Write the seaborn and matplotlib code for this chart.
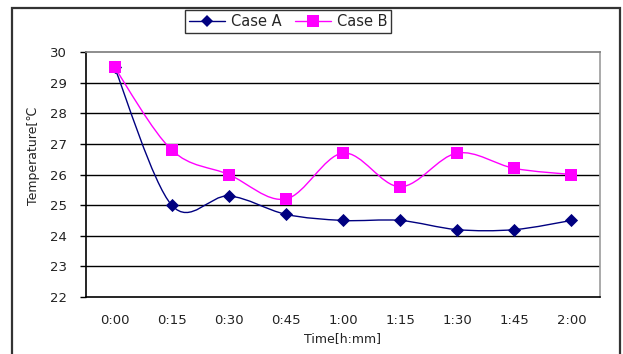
import numpy as np
import pandas as pd
import matplotlib
matplotlib.use("Agg")
import matplotlib.pyplot as plt
from matplotlib.path import Path
from matplotlib.patches import PathPatch, Rectangle
from matplotlib.lines import Line2D
import seaborn as sns

# Measurements every 15 minutes
times = ["0:00", "0:15", "0:30", "0:45", "1:00", "1:15", "1:30", "1:45", "2:00"]
case_a = [29.5, 25.0, 25.3, 24.7, 24.5, 24.5, 24.2, 24.2, 24.5]
case_b = [29.5, 26.8, 26.0, 25.2, 26.7, 25.6, 26.7, 26.2, 26.0]
series_names = ["Case A", "Case B"]
y_ticks = [22, 23, 24, 25, 26, 27, 28, 29, 30]

colors = {"Case A": "#000080", "Case B": "#FF00FF"}
markers = {"Case A": "D", "Case B": "s"}

df = pd.DataFrame({
    "idx": list(range(len(times))) * 2,
    "time": times * 2,
    "temp": case_a + case_b,
    "case": [series_names[0]] * len(times) + [series_names[1]] * len(times),
})

sns.set_theme(style="white")
plt.rcParams["font.family"] = ["DejaVu Sans"]

fig = plt.figure(figsize=(6.23, 3.54), dpi=100)
ax = fig.add_axes([86 / 623, 1 - 297 / 354, (600 - 86) / 623, (297 - 52) / 354])


def smooth_path(xs, ys):
    """Cubic Bezier through the points with Catmull-Rom tangents."""
    pts = np.column_stack([xs, ys]).astype(float)
    n = len(pts)
    verts = [pts[0]]
    codes = [Path.MOVETO]
    for i in range(n - 1):
        p0 = pts[i - 1] if i > 0 else pts[i]
        p1 = pts[i]
        p2 = pts[i + 1]
        p3 = pts[i + 2] if i + 2 < n else pts[i + 1]
        c1 = p1 + (p2 - p0) / 6.0
        c2 = p2 - (p3 - p1) / 6.0
        verts += [c1, c2, p2]
        codes += [Path.CURVE4] * 3
    return Path(verts, codes)


for name in series_names:
    sub = df[df["case"] == name]
    patch = PathPatch(smooth_path(sub["idx"].values, sub["temp"].values),
                      facecolor="none", edgecolor=colors[name], lw=1.0, zorder=3)
    ax.add_patch(patch)

sns.scatterplot(data=df[df["case"] == "Case A"], x="idx", y="temp",
                color=colors["Case A"], marker="D", s=45, linewidth=0,
                ax=ax, zorder=4, legend=False)
sns.scatterplot(data=df[df["case"] == "Case B"], x="idx", y="temp",
                color=colors["Case B"], marker="s", s=80, linewidth=0,
                ax=ax, zorder=4, legend=False)

ax.set_xlim(-0.5, len(times) - 0.5)
ax.set_ylim(22, 30)
ax.set_xticks(range(len(times)))
ax.set_xticklabels(times, fontsize=9.5, color="#222222")
ax.set_yticks(y_ticks)
ax.set_yticklabels([str(v) for v in y_ticks], fontsize=9.5, color="#222222")
ax.tick_params(axis="x", length=0, pad=12)
ax.tick_params(axis="y", length=4, width=1, color="black", direction="out", pad=10, left=True)

for v in y_ticks[1:-1]:
    ax.axhline(v, color="black", lw=1.0, zorder=1)

ax.spines["left"].set_color("black")
ax.spines["bottom"].set_color("black")
ax.spines["left"].set_linewidth(1.2)
ax.spines["bottom"].set_linewidth(1.2)
ax.spines["top"].set_color("#808080")
ax.spines["right"].set_color("#a0a0a0")
ax.set_facecolor("white")

ax.set_xlabel("Time[h:mm]", fontsize=9, labelpad=4, color="#222222")
ax.set_ylabel("")
fig.text(33 / 623, 1 - 156 / 354, "Temperature[℃", rotation=90, fontsize=9,
         ha="center", va="center", color="#222222")

handles = [Line2D([0], [0], color=colors[n], marker=markers[n],
                  markersize=(6 if n == "Case A" else 8), lw=1.0, markeredgewidth=0)
           for n in series_names]
leg = fig.legend(handles, series_names, loc="center",
                 bbox_to_anchor=(288 / 623, 1 - 21.5 / 354), ncol=2,
                 fontsize=10.5, frameon=True, fancybox=False, handlelength=2.5,
                 handletextpad=0.4, columnspacing=0.9, borderpad=0.25)
leg.get_frame().set_edgecolor("black")
leg.get_frame().set_linewidth(1.0)

# Outer chart border
fig.patches.append(Rectangle((12 / 623, -0.05), (620 - 12) / 623, 1 - 8 / 354 + 0.05,
                             transform=fig.transFigure, fill=False,
                             edgecolor="#333333", lw=1.6))

fig.savefig("out.png", dpi=100, facecolor="white")
